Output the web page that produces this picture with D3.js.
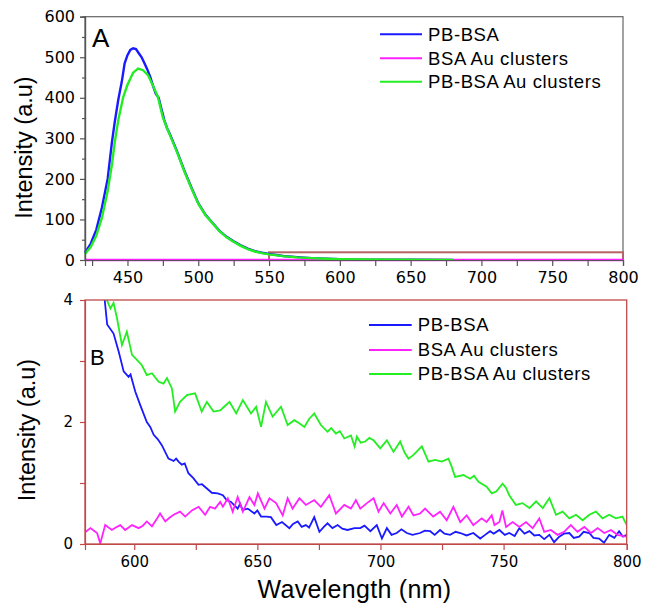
<html>
<head>
  <meta charset="utf-8">
  <script src="https://d3js.org/d3.v7.min.js"></script>
  <style>
    body { margin: 0; background: #fff; }
    .tick text { font-family: 'DejaVu Sans', Verdana, sans-serif; fill: #000; }
    .title { font-family: 'Liberation Sans', Arial, sans-serif; fill: #000; }
  </style>
</head>
<body>
<div id="chart"></div>
<script>

// ---- data ----
var seriesNames = ['PB-BSA', 'BSA Au clusters', 'PB-BSA Au clusters'];
var seriesColors = ['#1a1aff', '#ff22ff', '#22ee22'];

// panel A: full spectra (nm, intensity)
var topPbBsa = [[420,18],[424,40],[428,75],[432,130],[436,200],[439,290],[441,340],[443.5,395],[446,440],[448,485],[450,505],
  [452,518],[454,522],[456,520],[458,510],[460,500],[462,485],[464,470],[466,452],[468,430],[470,410],[472,400],[474,372],
  [476,345],[478,325],[480,310],[485,268],[490,222],[495,180],[500,140],[505,112],[510,92],[515,72],[520,57],[525,46],
  [530,36],[535,28],[540,22],[545,18],[550,15],[560,10],[570,7],[580,4.5],[590,3],[600,2],[620,1],[650,0.5],[680,0.3]];
var topBsaAu = [[420,0],[500,0],[600,0],[700,0],[800,0]];
var topPbBsaAu = [[420,15],[424,32],[428,60],[432,105],[436,170],[439,235],[441,290],[443.5,345],[447,402],[450,432],
  [454,462],[457.5,472],[461,468],[464.5,456],[468,430],[471.5,402],[475,352],[478,325],[480,308],[485,266],[490,220],
  [495,178],[500,139],[505,111],[510,91],[515,71],[520,56],[525,45],[530,35],[535,27],[540,21],[545,17],[550,14],
  [560,9.5],[570,6.5],[580,4.5],[590,3],[600,2],[620,1.2],[650,0.6],[680,0.3]];

// panel B: zoom of the tail (nm, intensity)
var botPbBsa = [[585,4.8],[588,4.0],[589,3.6],[591.6,3.45],[593.7,3.15],[595.7,2.83],[597.7,2.74],[598.5,2.78],[600.4,2.5],
  [602.4,2.28],[605.1,2.0],[606.5,1.92],[607.9,1.79],[609.5,1.72],[611.2,1.62],[613.9,1.40],[616,1.36],[617,1.40],[618,1.35],
  [619.3,1.30],[620.5,1.32],[622,1.16],[624,1.08],[626.1,0.97],[627.5,0.98],[629.5,0.91],[631.5,0.84],[633.9,0.83],[636,0.80],
  [637.5,0.72],[639.3,0.69],[642,0.58],[643,0.66],[644,0.56],[646.1,0.58],[648.8,0.50],[650,0.55],[651.5,0.45],[653.7,0.45],
  [655.5,0.44],[657.7,0.31],[660,0.36],[663,0.26],[664.5,0.33],[666.4,0.37],[668,0.28],[669.7,0.31],[671,0.27],[673.1,0.44],
  [675.2,0.20],[677,0.28],[678.5,0.34],[680.5,0.26],[682.6,0.31],[684.5,0.25],[686.6,0.23],[689.4,0.26],[691.8,0.26],
  [693.5,0.30],[695.9,0.21],[698.5,0.31],[700.6,0.09],[702.6,0.26],[704.5,0.15],[706.6,0.18],[708.5,0.24],[710.7,0.18],
  [713,0.15],[716.1,0.18],[718,0.22],[720.2,0.21],[722,0.15],[724.2,0.23],[726,0.17],[728.3,0.15],[730.5,0.20],[732.4,0.18],
  [735,0.14],[737.7,0.18],[740.5,0.09],[742.5,0.15],[744.5,0.21],[746,0.17],[748.3,0.23],[750.5,0.15],[752.3,0.18],
  [754.5,0.13],[756.4,0.26],[758.5,0.17],[760.5,0.21],[762.5,0.14],[764.5,0.15],[766.5,0.08],[768.6,0.15],[770.5,0.03],
  [772.6,0.12],[774.5,0.17],[776.7,0.18],[778.5,0.10],[780.7,0.12],[782.5,0.20],[784.8,0.18],[786.5,0.10],[788.8,0.09],
  [790.8,0.02],[792.9,0.15],[795,0.10],[796.9,0.21],[798.5,0.12],[800,0.15]];
var botBsaAu = [[580,0.19],[582.2,0.26],[583.5,0.22],[584.9,0.18],[586.2,0.01],[588.2,0.31],[590.9,0.23],[592.5,0.27],
  [594.3,0.31],[596.3,0.23],[599.1,0.31],[601.8,0.26],[603.5,0.30],[605.1,0.37],[607.2,0.29],[609,0.40],[610.5,0.50],
  [612.6,0.37],[614.3,0.43],[616,0.48],[618.6,0.53],[620.7,0.45],[623.4,0.55],[626.1,0.61],[628.8,0.48],[630.8,0.61],
  [632.8,0.58],[634.9,0.69],[636,0.61],[638,0.75],[640,0.53],[642,0.77],[644.1,0.53],[646.8,0.77],[648.8,0.64],[650.2,0.83],
  [652.9,0.58],[654.9,0.75],[657.6,0.67],[660.3,0.47],[662.3,0.75],[664.3,0.58],[667.1,0.75],[669.7,0.64],[673.1,0.72],
  [675.8,0.61],[679.2,0.80],[681.9,0.50],[685.3,0.64],[688,0.58],[690,0.72],[691.8,0.58],[694.5,0.67],[697.2,0.75],
  [699.2,0.53],[701.3,0.67],[704,0.50],[706.6,0.64],[708.7,0.45],[711.4,0.61],[713.4,0.47],[716.1,0.50],[718.1,0.58],
  [721.4,0.45],[724.2,0.53],[726.9,0.39],[729.6,0.61],[732.4,0.36],[735,0.47],[737.7,0.31],[741.1,0.42],[743.1,0.36],
  [745.2,0.47],[746.3,0.31],[748.3,0.36],[749.5,0.55],[751,0.28],[753.7,0.36],[756.4,0.28],[759.1,0.36],[761.8,0.26],
  [764.5,0.42],[766.5,0.20],[769.2,0.23],[771.9,0.15],[774.6,0.20],[777.3,0.31],[780,0.20],[782.8,0.28],[785.5,0.18],
  [788.2,0.26],[790.9,0.18],[793.6,0.23],[796.3,0.15],[799.7,0.12]];
var botPbBsaAu = [[586,4.6],[588.9,4.0],[590.3,3.86],[591.6,3.95],[593,3.70],[595,3.26],[597,3.48],[599.1,3.10],[601.1,3.02],
  [603.1,2.93],[605.1,2.77],[607.2,2.80],[609.9,2.66],[611.9,2.63],[613.3,2.72],[615.3,2.55],[616.6,2.17],[618.6,2.33],
  [621.4,2.44],[624.7,2.47],[627.4,2.17],[629.5,2.33],[632.2,2.17],[634.9,2.19],[636.5,2.25],[638.7,2.33],[641.4,2.14],
  [644.1,2.36],[647.4,2.14],[649.5,2.25],[651.5,1.92],[653.5,2.33],[656.2,2.09],[659.6,2.25],[662.3,1.95],[665,2.03],
  [667,1.98],[669.1,1.92],[671,2.05],[673.1,2.14],[675.8,1.95],[678.5,1.84],[680,1.90],[681.9,1.81],[683.5,1.85],[685.3,1.73],
  [688,1.78],[689.5,1.60],[690.4,1.76],[692,1.66],[693.8,1.68],[695.5,1.74],[697.2,1.70],[699.9,1.57],[702.6,1.70],
  [705.3,1.51],[708,1.68],[709.8,1.50],[711.4,1.40],[713.4,1.46],[716.8,1.60],[719.5,1.35],[722.2,1.38],[724.9,1.35],
  [727.6,1.40],[728.8,1.28],[730.3,1.10],[733.7,1.13],[736.4,1.07],[738,1.12],[739.8,1.02],[743.1,0.94],[745.2,0.83],
  [747,0.86],[749.6,0.99],[751,0.92],[752.3,0.80],[755,0.64],[757.7,0.67],[760.5,0.59],[763.2,0.70],[765.9,0.59],
  [768.6,0.75],[771.3,0.48],[774,0.53],[776.7,0.42],[779.4,0.48],[782.1,0.39],[784.8,0.48],[787.5,0.53],[790.2,0.42],
  [792.9,0.48],[795.6,0.42],[798.3,0.45],[800,0.31]];

// tick values
var topXTicks = [450, 500, 550, 600, 650, 700, 750, 800];
var topYTicks = [0, 100, 200, 300, 400, 500, 600];
var botXTicks = [600, 650, 700, 750, 800];
var botYTicks = [0, 2, 4];
var zoomBox = {x0: 550, x1: 800, y0: 0, y1: 19};

// ---- layout ----
var svg = d3.select('#chart').append('svg')
  .attr('width', 649)
  .attr('height', 612);

// Panel A scales
var xA = d3.scaleLinear().domain([420, 800]).range([85, 623]);
var yA = d3.scaleLinear().domain([0, 600]).range([260, 16.7]);
// Panel B scales
var xB = d3.scaleLinear().domain([580, 800]).range([85, 626.7]);
var yB = d3.scaleLinear().domain([0, 4]).range([544, 300]);

function lineFor(x, y) {
  return d3.line()
    .x(function(d) { return x(d[0]); })
    .y(function(d) { return y(d[1]); })
    .curve(d3.curveLinear);
}

// ---------- Panel A ----------
var gA = svg.append('g');

// frame
gA.append('rect')
  .attr('x', xA(420)).attr('y', yA(600))
  .attr('width', xA(800) - xA(420)).attr('height', yA(0) - yA(600))
  .attr('fill', 'none').attr('stroke', '#666').attr('stroke-width', 1.2);

// zoom region box
gA.append('rect')
  .attr('x', xA(zoomBox.x0)).attr('y', yA(zoomBox.y1))
  .attr('width', xA(zoomBox.x1) - xA(zoomBox.x0)).attr('height', yA(zoomBox.y0) - yA(zoomBox.y1))
  .attr('fill', 'none').attr('stroke', '#b46464').attr('stroke-width', 2);

var lineA = lineFor(xA, yA);
[topPbBsa, topBsaAu, topPbBsaAu].forEach(function(s, i) {
  gA.append('path')
    .attr('d', lineA(s))
    .attr('fill', 'none')
    .attr('stroke', seriesColors[i])
    .attr('stroke-width', 2.4);
});

// axes A
gA.append('g')
  .attr('transform', 'translate(0,' + yA(0) + ')')
  .call(d3.axisBottom(xA).tickValues(d3.range(425, 801, 25)).tickSize(6).tickPadding(6)
    .tickFormat(function(d) { return topXTicks.indexOf(d) >= 0 ? d : ''; }));
gA.append('g')
  .attr('transform', 'translate(' + xA(420) + ',0)')
  .call(d3.axisLeft(yA).tickValues(topYTicks).tickSize(5).tickPadding(5));
gA.append('g')
  .attr('transform', 'translate(' + xA(420) + ',0)')
  .call(d3.axisLeft(yA).tickValues(d3.range(50, 600, 100)).tickSize(3).tickFormat(''));

// ---------- Panel B ----------
var gB = svg.append('g');

svg.append('clipPath').attr('id', 'clipB')
  .append('rect')
  .attr('x', xB(580)).attr('y', yB(4))
  .attr('width', xB(800) - xB(580)).attr('height', yB(0) - yB(4));

var lineB = lineFor(xB, yB);
[botPbBsa, botBsaAu, botPbBsaAu].forEach(function(s, i) {
  gB.append('path')
    .attr('d', lineB(s))
    .attr('clip-path', 'url(#clipB)')
    .attr('fill', 'none')
    .attr('stroke', seriesColors[i])
    .attr('stroke-width', 1.8);
});

gB.append('rect')
  .attr('x', xB(580)).attr('y', yB(4))
  .attr('width', xB(800) - xB(580)).attr('height', yB(0) - yB(4))
  .attr('fill', 'none').attr('stroke', '#c04848').attr('stroke-width', 1.3);

gB.append('g')
  .attr('class', 'axisB')
  .attr('transform', 'translate(0,' + yB(0) + ')')
  .call(d3.axisBottom(xB).tickValues(d3.range(600, 801, 25)).tickSize(6).tickPadding(6)
    .tickFormat(function(d) { return botXTicks.indexOf(d) >= 0 ? d : ''; }));
gB.append('g')
  .attr('class', 'axisB')
  .attr('transform', 'translate(' + xB(580) + ',0)')
  .call(d3.axisLeft(yB).tickValues([0, 1, 2, 3, 4]).tickSize(5).tickPadding(7)
    .tickFormat(function(d) { return botYTicks.indexOf(d) >= 0 ? d : ''; }));

// axis styling
gA.selectAll('.domain, .tick line').attr('stroke', '#555').attr('stroke-width', 1.2);
gA.selectAll('.tick text').style('font-size', '16px');
gB.selectAll('.axisB .domain, .axisB .tick line').attr('stroke', '#c04848').attr('stroke-width', 1.2);
gB.selectAll('.tick text').style('font-size', '15px');

// ---------- titles ----------
svg.append('text').attr('class', 'title')
  .attr('transform', 'translate(32,147.5) rotate(-90)')
  .attr('text-anchor', 'middle')
  .style('font-size', '23.5px')
  .text('Intensity (a.u)');
svg.append('text').attr('class', 'title')
  .attr('transform', 'translate(35,430) rotate(-90)')
  .attr('text-anchor', 'middle')
  .style('font-size', '23.5px')
  .text('Intensity (a.u)');
svg.append('text').attr('class', 'title')
  .attr('x', 354.5).attr('y', 598)
  .attr('text-anchor', 'middle')
  .style('font-size', '25px')
  .style('letter-spacing', '0.3px')
  .text('Wavelength (nm)');

svg.append('text').attr('class', 'title')
  .attr('x', 92).attr('y', 47)
  .style('font-size', '26px')
  .text('A');
svg.append('text').attr('class', 'title')
  .attr('x', 90).attr('y', 365)
  .style('font-size', '22px')
  .text('B');

// ---------- legends ----------
function legend(x0, x1, ys) {
  seriesNames.forEach(function(name, i) {
    svg.append('line')
      .attr('x1', x0).attr('x2', x1)
      .attr('y1', ys[i]).attr('y2', ys[i])
      .attr('stroke', seriesColors[i])
      .attr('stroke-width', 2);
    svg.append('text').attr('class', 'title')
      .attr('x', x1 + 6).attr('y', ys[i])
      .attr('dy', '0.35em')
      .style('font-size', '18.5px')
      .style('letter-spacing', '0.6px')
      .text(name);
  });
}
legend(380, 422, [34.3, 58.3, 81.7]);
legend(369, 411.7, [325, 350, 374]);

</script>
</body>
</html>
